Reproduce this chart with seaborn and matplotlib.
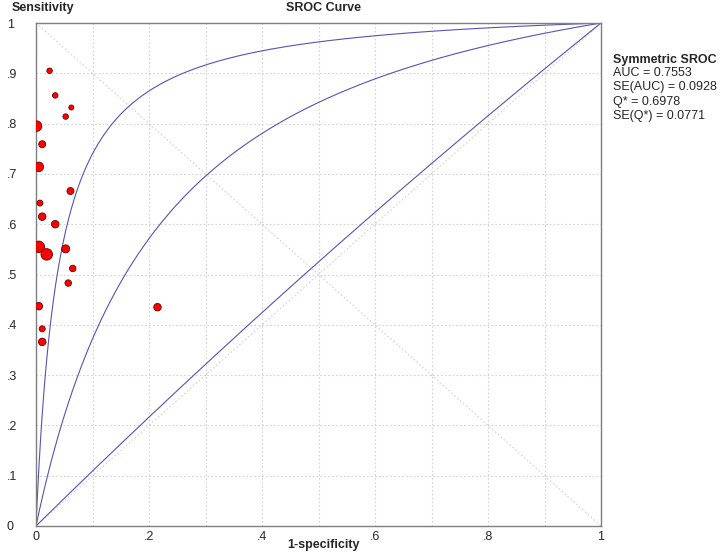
import numpy as np
import seaborn as sns
import matplotlib.pyplot as plt

# study points (1-specificity, sensitivity) and relative weight
fpr = [0.024, 0.034, 0.0625, 0.0525, 0.001, 0.011, 0.005, 0.061, 0.007, 0.011,
       0.034, 0.005, 0.019, 0.0525, 0.065, 0.057, 0.005, 0.215, 0.011, 0.011]
sens = [0.905, 0.856, 0.832, 0.814, 0.795, 0.759, 0.714, 0.666, 0.642, 0.615,
        0.600, 0.555, 0.540, 0.551, 0.512, 0.483, 0.437, 0.435, 0.392, 0.366]
weight = [5.5, 5.5, 5, 5.5, 10.5, 7, 9.5, 7, 6, 7.5,
          7.5, 11.5, 11.5, 8, 6.5, 6.5, 7.5, 7.5, 6, 7.5]

# Q* of the upper band, fitted curve and lower band (symmetric SROC)
sroc_q = [0.835, 0.6978, 0.5125]

legend_title = "Symmetric SROC"
legend_lines = ["AUC = 0.7553", "SE(AUC) = 0.0928", "Q* = 0.6978", "SE(Q*) = 0.0771"]

sns.set_style("white")
plt.rcParams['font.family'] = ['Liberation Sans', 'DejaVu Sans']
plt.rcParams['font.size'] = 9

fig = plt.figure(figsize=(7.2, 5.57), dpi=100)
ax = fig.add_axes([36 / 720, 31 / 557, 565 / 720, 503 / 557])

grid_kw = dict(color="#d2d2d2", lw=0.8, ls=(0, (1.5, 2)), zorder=0)
for v in np.arange(1, 10) / 10:
    ax.axvline(v, **grid_kw)
    ax.axhline(v, **grid_kw)
ax.plot([0, 1], [0, 1], **grid_kw)
ax.plot([0, 1], [1, 0], **grid_kw)

# SROC curves: logit(sens) = a + logit(fpr), a = 2 * logit(Q*)
x = np.linspace(1e-5, 1, 600)
for q in sroc_q:
    a = 2 * np.log(q / (1 - q))
    y = 1 / (1 + np.exp(-a) * (1 - x) / x)
    sns.lineplot(x=np.r_[0, x], y=np.r_[0, y], sort=False, ax=ax,
                 color="#5454b8", lw=0.8, zorder=2)

d_pt = np.array(weight) * 0.72
sns.scatterplot(x=fpr, y=sens, s=d_pt ** 2, color="#ff0000",
                edgecolor="#6a0000", linewidth=0.6, ax=ax, zorder=3, legend=False)

ax.set_xlim(0, 1)
ax.set_ylim(0, 1)
xt = np.arange(0, 11) / 10
ax.set_xticks(xt)
ax.set_xticklabels(["0", "", ".2", "", ".4", "", ".6", "", ".8", "", "1"])
ax.set_yticks(xt)
ax.set_yticklabels(["0", ".1", ".2", ".3", ".4", ".5", ".6", ".7", ".8", ".9", "1"])
ax.tick_params(axis="x", length=0, pad=3.5, labelsize=9)
ax.tick_params(axis="y", length=4.3, width=1, color="#7f7f7f", pad=16.6, labelsize=9)
for lab in ax.get_yticklabels():
    lab.set_horizontalalignment("left")
for sp in ax.spines.values():
    sp.set_color("#7f7f7f")
    sp.set_linewidth(1.0)
ax.set_xlabel("")
ax.set_ylabel("")

fig.text(12 / 720, 1 - 8 / 557, "Sensitivity", fontweight="bold", va="center", ha="left")
fig.text(323 / 720, 1 - 8 / 557, "SROC Curve", fontweight="bold", va="center", ha="center")
fig.text(324 / 720, 1 - 545 / 557, "1-specificity", fontweight="bold", va="center", ha="center")

fig.text(613 / 720, 1 - 60 / 557, legend_title, fontweight="bold", va="center", ha="left")
for i, t in enumerate(legend_lines):
    fig.text(613 / 720, 1 - (72.5 + 14.5 * i) / 557, t, va="center", ha="left")

fig.savefig("out.png", dpi=100)
